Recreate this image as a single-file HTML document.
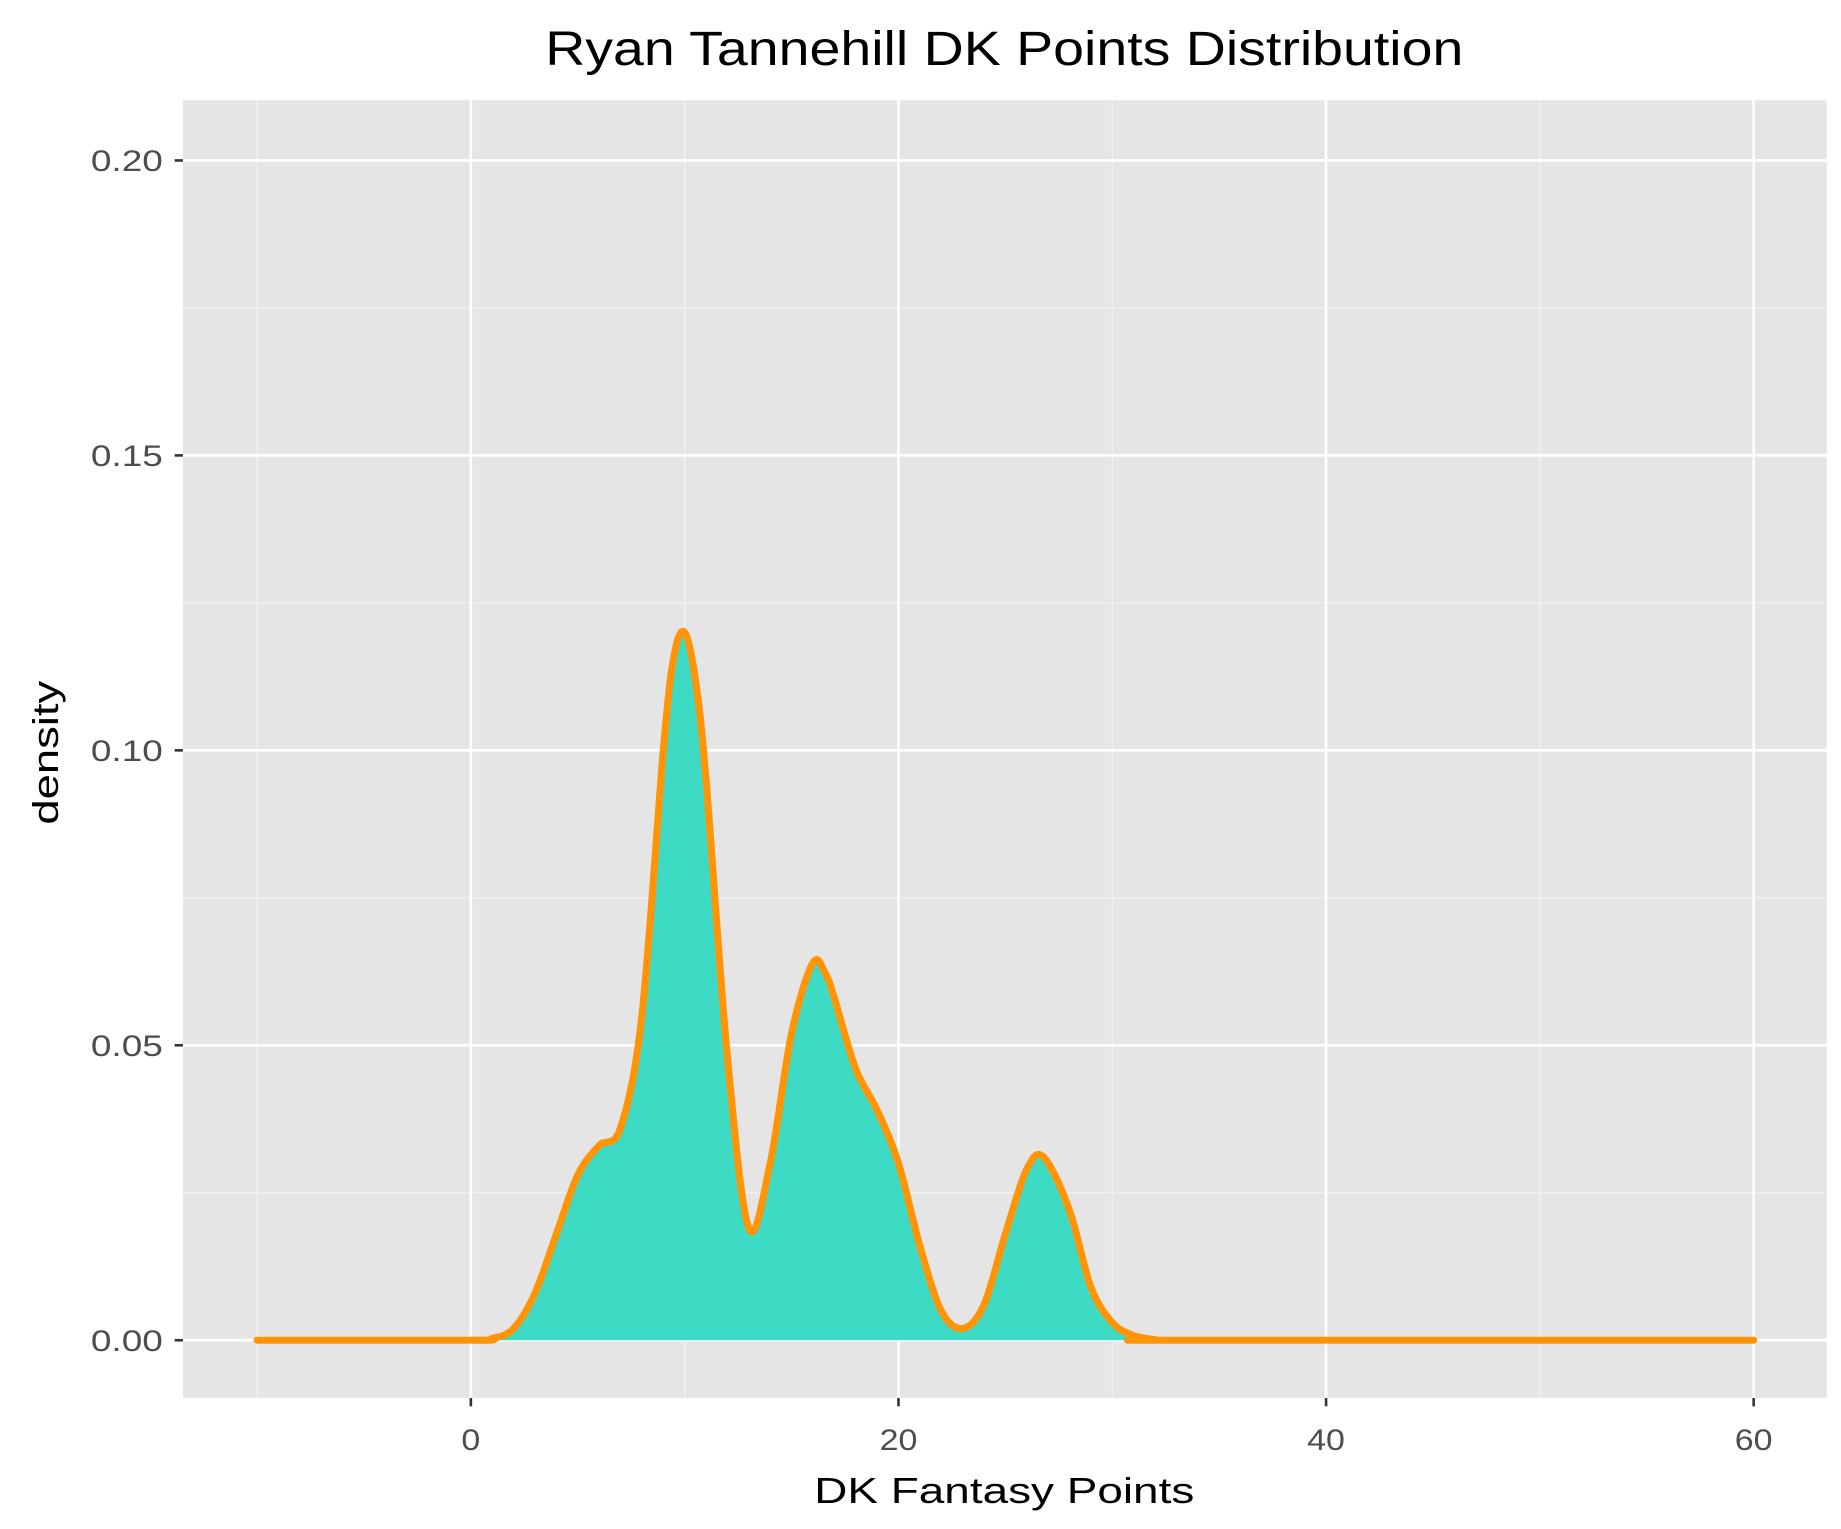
<!DOCTYPE html>
<html><head><meta charset="utf-8"><style>
html,body{margin:0;padding:0;background:#fff;}
svg{display:block;}
text{font-family:"Liberation Sans",Arial,sans-serif;}
</style></head><body>
<svg id="chart" width="1841" height="1529" viewBox="0 0 1560 1296" preserveAspectRatio="none" xmlns="http://www.w3.org/2000/svg">
<text x="851" y="55" font-size="41" text-anchor="middle" fill="#000" textLength="778" lengthAdjust="spacingAndGlyphs">Ryan Tannehill DK Points Distribution</text>
<rect x="155" y="85" width="1393" height="1100" fill="#e5e5e5"/>
<g id="grid"></g>
<g id="marks"></g>
<g id="axes"></g>
<text x="851" y="1274" font-size="31" text-anchor="middle" fill="#000" textLength="322" lengthAdjust="spacingAndGlyphs">DK Fantasy Points</text>
<text transform="translate(49,638) rotate(-90)" font-size="31" text-anchor="middle" fill="#000" textLength="122" lengthAdjust="spacingAndGlyphs">density</text>
</svg>
<script>
const xs = [-10,0,1,2,3,4,5,6,7,8,9,9.5,10,10.5,11,12,13,14,15,16,16.6,17,18,19,20,21,22,23,24,25,26,26.8,28,29,30,31,32,33,60];
const ys = [0,0,0.0003,0.002,0.008,0.018,0.028,0.033,0.036,0.055,0.100,0.116,0.120,0.112,0.095,0.048,0.019,0.030,0.052,0.064,0.062,0.058,0.046,0.039,0.030,0.016,0.005,0.002,0.006,0.018,0.029,0.031,0.022,0.009,0.003,0.0008,0.0001,0,0];
const xMajor = [0,20,40,60];
const xMinor = [-10,10,30,50];
const yMajor = [0,0.05,0.10,0.15,0.20];
const yMinor = [0.025,0.075,0.125,0.175];
const yLabels = ["0.00","0.05","0.10","0.15","0.20"];

const X = v => 399 + v * (1486 - 399) / 60;
const Y = v => 1136 - v * 5000;
const NS = "http://www.w3.org/2000/svg";
function mk(tag, attrs, parent){const e=document.createElementNS(NS,tag);for(const k in attrs)e.setAttribute(k,attrs[k]);parent.appendChild(e);return e;}
const grid=document.getElementById('grid'), marks=document.getElementById('marks'), axes=document.getElementById('axes');
xMinor.forEach(v=>{const l=mk('line',{x1:X(v),x2:X(v),y1:85,y2:1185,stroke:'#f2f2f2','stroke-width':1.1},grid);

});
yMinor.forEach(v=>{const l=mk('line',{x1:155,x2:1548,y1:Y(v),y2:Y(v),stroke:'#f2f2f2','stroke-width':1.1},grid);

});
xMajor.forEach(v=>{const l=mk('line',{x1:X(v),x2:X(v),y1:85,y2:1185,stroke:'#fff','stroke-width':2.2},grid);


const t=mk('line',{x1:X(v),x2:X(v),y1:1185,y2:1192,stroke:'#333','stroke-width':2.2},axes);


const lab=String(v);
const tx=mk('text',{x:X(v),y:1229,'font-size':25,'text-anchor':'middle',fill:'#4d4d4d',textLength:16*lab.length,lengthAdjust:'spacingAndGlyphs'},axes);tx.textContent=lab;

});
yMajor.forEach((v,i)=>{const l=mk('line',{x1:155,x2:1548,y1:Y(v),y2:Y(v),stroke:'#fff','stroke-width':2.2},grid);


const t=mk('line',{x1:148,x2:155,y1:Y(v),y2:Y(v),stroke:'#333','stroke-width':2.2},axes);


const tx=mk('text',{x:138,y:Y(v)+9,'font-size':25,'text-anchor':'end',fill:'#4d4d4d',textLength:61,lengthAdjust:'spacingAndGlyphs'},axes);tx.textContent=yLabels[i];

});
// Catmull-Rom smooth path
const P=xs.map((x,i)=>[X(x),Y(ys[i])]);
let d='M'+P[0][0]+','+P[0][1];
for(let i=0;i<P.length-1;i++){const p0=P[Math.max(0,i-1)],p1=P[i],p2=P[i+1],p3=P[Math.min(P.length-1,i+2)];
const c1=[p1[0]+(p2[0]-p0[0])/6,p1[1]+(p2[1]-p0[1])/6],c2=[p2[0]-(p3[0]-p1[0])/6,p2[1]-(p3[1]-p1[1])/6];
c1[1]=Math.min(c1[1],Y(0));c2[1]=Math.min(c2[1],Y(0));
d+=` C${c1[0]},${c1[1]} ${c2[0]},${c2[1]} ${p2[0]},${p2[1]}`;}
const area=mk('path',{d:d+` L${X(xs[xs.length-1])},${Y(0)} L${X(xs[0])},${Y(0)} Z`,fill:'#3ddbc4'},marks);


const line=mk('path',{d:d,fill:'none',stroke:'#ff9406','stroke-width':6,'stroke-linecap':'round','stroke-linejoin':'round'},marks);


</script>
</body></html>
